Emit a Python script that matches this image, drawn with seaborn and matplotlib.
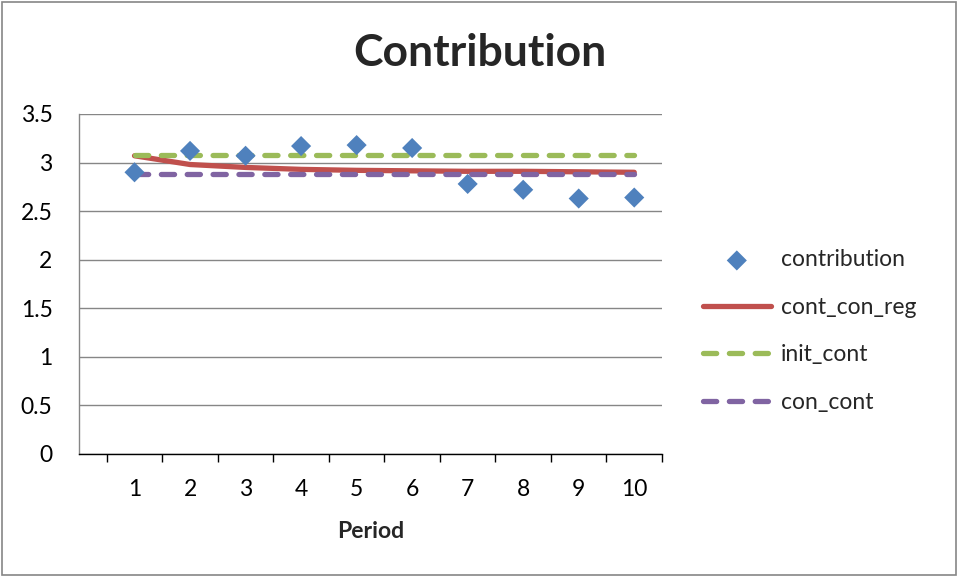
import matplotlib
matplotlib.use("Agg")
import matplotlib.pyplot as plt
from matplotlib.patches import Rectangle
from matplotlib.ticker import FixedLocator
import pandas as pd
import seaborn as sns

sns.set_theme(style="white")
plt.rcParams['font.family'] = ['Lato', 'DejaVu Sans']

# data
period = [1, 2, 3, 4, 5, 6, 7, 8, 9, 10]
contribution = [2.90, 3.12, 3.07, 3.17, 3.18, 3.15, 2.78, 2.72, 2.63, 2.64]
cont_con_reg = [3.07, 2.98, 2.95, 2.93, 2.92, 2.915, 2.91, 2.91, 2.905, 2.90]
init_cont = [3.08] * 10
con_cont = [2.88] * 10

df = pd.DataFrame({"period": period, "contribution": contribution,
                   "cont_con_reg": cont_con_reg, "init_cont": init_cont,
                   "con_cont": con_cont})

fig = plt.figure(figsize=(9.58, 5.77), dpi=100)
ax = fig.add_axes([79/958, 1-454/577, (662-79)/958, (454-114)/577])

grid_c = "#868686"
dash = (0, (2.5, 2.4))
fs = 16.5

sns.scatterplot(x="period", y="contribution", data=df, ax=ax, marker="D",
                s=105, color="#4F81BD", edgecolor="none", label="contribution", zorder=5)
sns.lineplot(x="period", y="cont_con_reg", data=df, ax=ax, color="#C0504D",
             linewidth=3.8, label="cont_con_reg", solid_capstyle="round", zorder=3)
sns.lineplot(x="period", y="init_cont", data=df, ax=ax, color="#9BBB59",
             linewidth=3.8, linestyle=dash, dash_capstyle="round", label="init_cont", zorder=3)
sns.lineplot(x="period", y="con_cont", data=df, ax=ax, color="#8064A2",
             linewidth=3.8, linestyle=dash, dash_capstyle="round", label="con_cont", zorder=4)

ax.set_xlim(0, 10.5)
ax.set_ylim(0, 3.5)
ax.set_yticks([0, 0.5, 1, 1.5, 2, 2.5, 3, 3.5])
ax.set_yticklabels(["0", "0.5", "1", "1.5", "2", "2.5", "3", "3.5"])
ax.yaxis.grid(True, color=grid_c, linewidth=1.0)
ax.set_axisbelow(True)
ax.set_xticks(period)
ax.set_xticklabels([str(p) for p in period])
ax.xaxis.set_minor_locator(FixedLocator([i + 0.5 for i in range(11)]))
ax.tick_params(axis="x", which="major", length=0, pad=18, labelsize=fs, colors="black")
ax.tick_params(axis="x", which="minor", length=6, width=1, color="black", direction="out", bottom=True)
ax.tick_params(axis="y", length=0, pad=19, labelsize=fs, colors="black")

for s in ["top", "right"]:
    ax.spines[s].set_visible(False)
ax.spines["left"].set_color(grid_c)
ax.spines["left"].set_linewidth(1.0)
ax.spines["bottom"].set_color("black")
ax.spines["bottom"].set_linewidth(1.0)

ax.set_xlabel("Period", fontsize=fs, fontweight="bold", labelpad=15)
ax.set_ylabel("")

fig.text(480/958, 1-53/577, "Contribution", ha="center", va="center",
         fontsize=32, fontweight="bold")

ax.legend(loc="center left", bbox_to_anchor=(703/958, 1-331/577),
          bbox_transform=fig.transFigure, frameon=False, fontsize=fs,
          handlelength=2.95, handletextpad=0.45, labelspacing=1.15,
          borderpad=0, borderaxespad=0)

fig.patches.append(Rectangle((2/958, 2/577), 954/958, 573/577, transform=fig.transFigure,
                             fill=False, edgecolor=grid_c, linewidth=1.2))

fig.savefig("out.png", dpi=100)
